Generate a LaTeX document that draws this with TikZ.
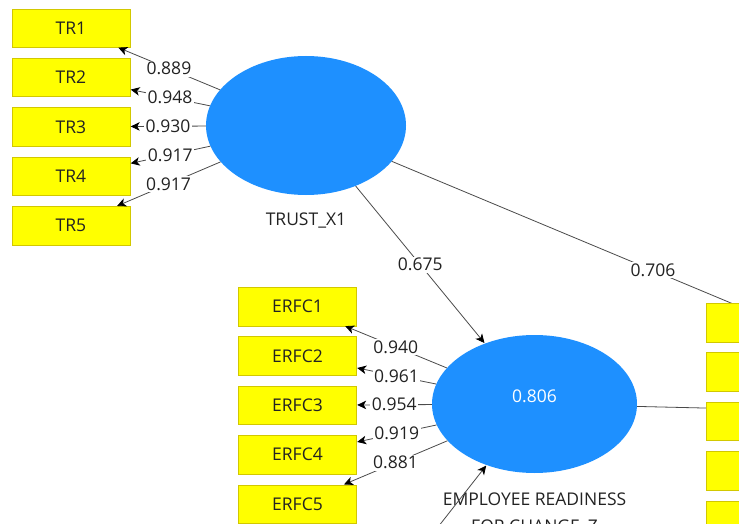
\documentclass[tikz,border=0pt]{standalone}
\usepackage{fontspec}
\setmainfont{Open Sans}
\usetikzlibrary{arrows,arrows.meta,positioning,shapes}
\definecolor{construct}{HTML}{1E90FF}
\definecolor{indicator}{HTML}{FFFF00}
\definecolor{indborder}{HTML}{D2C800}
\definecolor{pathline}{HTML}{4A4A4A}
\definecolor{textgray}{HTML}{222222}
\tikzset{
    %Define standard arrow tip
    >={Stealth[length=9pt,width=8.5pt,inset=2.5pt,color=black]},
    %Define style for latent variables
    latentvar/.style={
   	ellipse,
   	fill=construct,
   	inner sep=0pt,
   	font=\fontsize{17.5}{21}\selectfont
   },
   %Define style for indicator boxes
   itembox/.style={
   	rectangle,
   	draw=indborder, thin,
   	fill=indicator,
   	minimum width=118pt,
   	minimum height=38.5pt,
   	font=\fontsize{17.5}{21}\selectfont,
   	text=textgray,
   	text centered
   },
    % Define style for coefficients on the paths
    coef/.style={
   	fill=white,
   	inner sep=1.5pt,
   	font=\fontsize{17.5}{21}\selectfont,
   	text=textgray},
    caption/.style={
   	font=\fontsize{17.5}{27}\selectfont,
   	text=textgray,
   	align=center}
}
\begin{document}
\begin{tikzpicture}[->,x=1pt,y=-1pt,shorten >=0.5pt,node distance=10.5pt,
		lt/.style={latentvar},mv/.style={itembox}]
		\useasboundingbox (0,0) rectangle (739,524);
		\clip (0,0) rectangle (739,524);
		% constructs
		\node[lt,minimum width=200pt,minimum height=139pt,
			label={[caption,label distance=14pt]below:TRUST\_X1}](trust) at (306,125.5){};
		\node[lt,minimum width=205pt,minimum height=138pt,
			label={[caption,label distance=16pt]below:EMPLOYEE READINESS\\FOR CHANGE\_Z}](erfc) at (534.5,404){};
		\node[font=\fontsize{17.5}{21}\selectfont,text=white] at ([yshift=8pt]erfc.center){0.806};
		\coordinate (yc) at (999,415);
		\coordinate (x2) at (380,601);
		% indicators
		\node[mv](tr1) at (71,28){TR1};
		\node[mv, below=of tr1](tr2){TR2};
		\node[mv, below=of tr2](tr3){TR3};
		\node[mv, below=of tr3](tr4){TR4};
		\node[mv, below=of tr4](tr5){TR5};
		\node[mv](erfc1) at (297.5,306.5){ERFC1};
		\node[mv, below=of erfc1](erfc2){ERFC2};
		\node[mv, below=of erfc2](erfc3){ERFC3};
		\node[mv, below=of erfc3](erfc4){ERFC4};
		\node[mv, below=of erfc4](erfc5){ERFC5};
		\path[draw=pathline,line width=0.8pt,every node/.style={coef}]
		(trust) edge node{0.889} (tr1)
		        edge node{0.948} (tr2)
		        edge node{0.930} (tr3)
		        edge node{0.917} (tr4)
		        edge node{0.917} (tr5)
		(erfc) edge node{0.940} (erfc1)
		       edge node{0.961} (erfc2)
		       edge node{0.954} (erfc3)
		       edge node{0.919} (erfc4)
		       edge node{0.881} (erfc5)
		(trust) edge node{0.675} (erfc)
		        edge node[pos=0.43]{0.706} (yc)
		(erfc) edge (yc)
		(x2) edge (erfc);
		% indicators of the next construct, cut by the border
		\node[mv](y1) at (765,322.5){};
		\node[mv, below=of y1](y2){};
		\node[mv, below=of y2](y3){};
		\node[mv, below=of y3](y4){};
		\node[mv, below=of y4](y5){};
\end{tikzpicture}
\end{document}
